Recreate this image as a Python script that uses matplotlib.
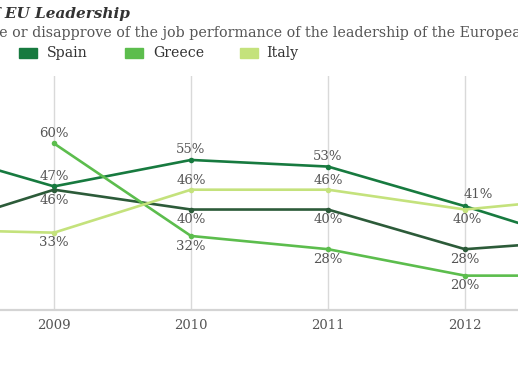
import numpy as np
import matplotlib
matplotlib.use("Agg")
import matplotlib.pyplot as plt

# ---- data -----------------------------------------------------------------
years = [2008, 2009, 2010, 2011, 2012, 2013]
portugal = [33, 46, 40, 40, 28, 31]
spain = [59, 47, 55, 53, 41, 28]
greece = [np.nan, 60, 32, 28, 20, 20]
italy = [34, 33, 46, 46, 40, 44]
tick_years = [2009, 2010, 2011, 2012]

title_prefix = "Approval of "
title_main = "EU Leadership"
subtitle_prefix = "Do you approv"
subtitle_rest = "e or disapprove of the job performance of the leadership of the European Union?"

# ---- styling ----------------------------------------------------------------
W, H, DPI = 518, 369, 100
SERIF = "DejaVu Serif"
TXT = "#555555"

colors = {
    "Portugal": "#2c5b39",
    "Spain": "#177a3f",
    "Greece": "#5cbd4d",
    "Italy": "#c4e27c",
}
# label offsets in pixels (dx, dy), one per year 2009-2012
label_offsets = {
    "Portugal": [(0, -11), (0, -10), (0, -10), (0, -10)],
    "Spain": [(0, 10), (0, 10), (0, 10), (13, 12)],
    "Greece": [(0, 10), (0, -11), (0, -10), (0, -10)],
    "Italy": [(0, -10), (0, 9), (0, 9), (2, -10)],
}

fig = plt.figure(figsize=(W / DPI, H / DPI), dpi=DPI)
fig.patch.set_facecolor("white")

# axes: bottom line at y=310px, gridlines start at y=76px
ax = fig.add_axes([0, 1 - 310 / H, 1, (310 - 76) / H])
px_per_year = 137.0
x2009 = 54.0
ax.set_xlim(2009 - x2009 / px_per_year, 2009 + (W - x2009) / px_per_year)
ax.set_ylim(9.6, 80.4)
ax.axis("off")

for yr in tick_years:
    ax.axvline(yr, color="#d9d9d9", lw=1.0, zorder=0)
    ax.text(yr, -0.065, str(yr), transform=ax.get_xaxis_transform(),
            ha="center", va="center", fontsize=9.5, family=SERIF, color=TXT)
ax.axhline(9.6, color="#d4d4d4", lw=1.6, zorder=0, clip_on=False)

series = [("Portugal", portugal), ("Spain", spain), ("Greece", greece), ("Italy", italy)]
for name, vals in series:
    ax.plot(years, vals, color=colors[name], lw=1.9, marker="o", ms=4,
            markeredgewidth=0, solid_capstyle="round", zorder=3)
    for i, yr in enumerate(tick_years):
        v = vals[years.index(yr)]
        dx, dy = label_offsets[name][i]
        ax.annotate(f"{v:.0f}%", (yr, v), xytext=(dx, dy), textcoords="offset pixels",
                    ha="center", va="center", fontsize=9.5, family=SERIF, color=TXT,
                    zorder=4)

# ---- title / subtitle (cropped on the left like the reference) -------------
renderer = fig.canvas.get_renderer()


def prefix_width(text, **kw):
    t = fig.text(0, 0, text, **kw)
    w = t.get_window_extent(renderer).width
    t.remove()
    return w


tkw = dict(fontsize=11, family=SERIF, weight="bold", style="italic", color="#333333")
w = prefix_width(title_prefix, **tkw)
fig.text((5 - w) / W, 1 - 14 / H, title_prefix + title_main, ha="left", va="center", **tkw)

skw = dict(fontsize=10.3, family=SERIF, color=TXT)
w = prefix_width(subtitle_prefix, **skw)
fig.text((-1 - w) / W, 1 - 33 / H, subtitle_prefix + subtitle_rest, ha="left", va="center", **skw)

# ---- legend (manual, squares + labels) --------------------------------------
legend_items = [("Spain", 19, 47), ("Greece", 125, 153), ("Italy", 240, 266)]
for name, sx, tx in legend_items:
    fig.patches.append(plt.Rectangle((sx / W, 1 - 58 / H), 18 / W, 10 / H,
                                     transform=fig.transFigure, color=colors[name]))
    fig.text(tx / W, 1 - 53 / H, name, ha="left", va="center",
             fontsize=10.2, family=SERIF, color="#333333")

fig.savefig("out.png", dpi=DPI, facecolor="white")
